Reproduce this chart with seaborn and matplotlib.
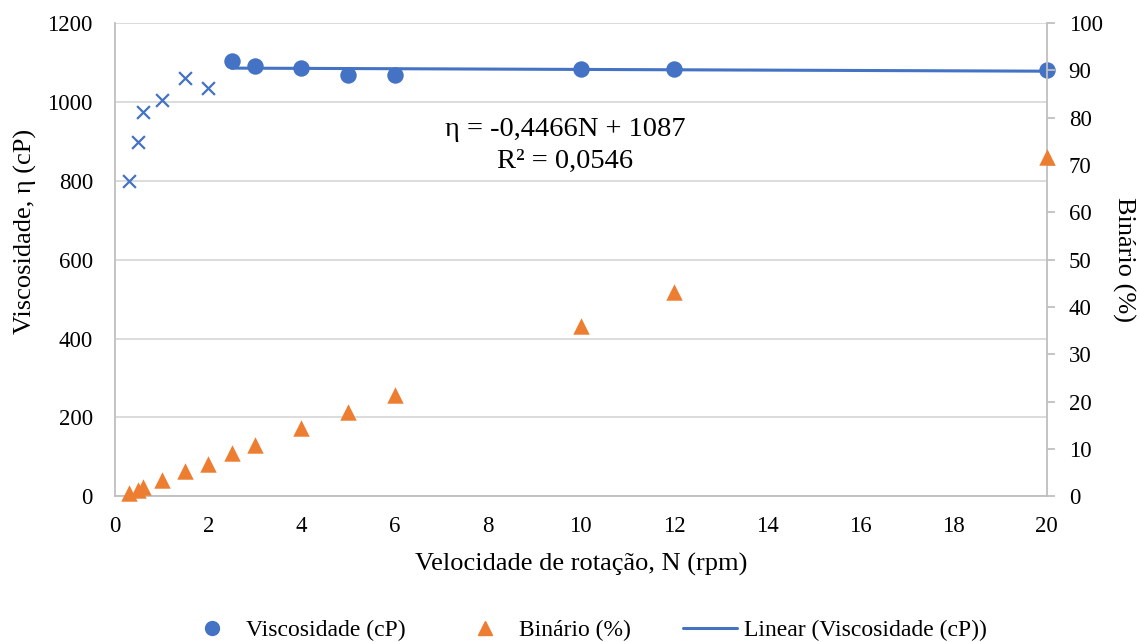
import matplotlib
matplotlib.use("Agg")
import matplotlib.pyplot as plt
import seaborn as sns
import pandas as pd
import numpy as np
from matplotlib.lines import Line2D

# ---- data ----
n_low = [0.3, 0.5, 0.6, 1.0, 1.5, 2.0]
visc_low = [800, 899, 975, 1004, 1060, 1035]

n_high = [2.5, 3, 4, 5, 6, 10, 12, 20]
visc_high = [1103, 1090, 1087, 1068, 1069, 1083, 1084, 1080]

n_all = [0.3, 0.5, 0.6, 1.0, 1.5, 2.0, 2.5, 3, 4, 5, 6, 10, 12, 20]
binario = [0.6, 1.4, 2.0, 3.4, 5.3, 6.9, 9.1, 10.8, 14.4, 17.8, 21.3, 35.9, 43.1, 71.6]

trend_slope = -0.4466
trend_intercept = 1087
trend_x = [2.5, 20]
eq_text = "η = -0,4466N + 1087\nR² = 0,0546"

blue = "#4472C4"
orange = "#ED7D31"
grid_c = "#D9D9D9"
spine_c = "#BFBFBF"

sns.set_theme(style="white")
plt.rcParams['font.family'] = ['Liberation Serif', 'DejaVu Serif']
plt.rcParams['text.color'] = 'black'
plt.rcParams['axes.labelcolor'] = 'black'

fig = plt.figure(figsize=(11.4, 6.42), dpi=100)
ax = fig.add_axes([0.101, 0.227, 0.817, 0.737])
ax2 = ax.twinx()

df_low = pd.DataFrame({"N": n_low, "v": visc_low})
df_high = pd.DataFrame({"N": n_high, "v": visc_high})
df_b = pd.DataFrame({"N": n_all, "b": binario})
df_t = pd.DataFrame({"N": trend_x, "v": [trend_slope * x + trend_intercept for x in trend_x]})

sns.lineplot(data=df_t, x="N", y="v", ax=ax, color=blue, linewidth=2.2, zorder=3)
sns.scatterplot(data=df_low, x="N", y="v", ax=ax, marker="x", s=85, color=blue,
                linewidth=1.6, zorder=4)
sns.scatterplot(data=df_high, x="N", y="v", ax=ax, marker="o", s=140, color=blue,
                edgecolor=blue, linewidth=0, zorder=5, clip_on=False)
sns.scatterplot(data=df_b, x="N", y="b", ax=ax2, marker="^", s=140, color=orange,
                edgecolor=orange, linewidth=0, zorder=5, clip_on=False)

ax.set_xlim(0, 20)
ax.set_ylim(0, 1200)
ax2.set_ylim(0, 100)
ax.set_xticks(np.arange(0, 21, 2))
ax.set_yticks(np.arange(0, 1201, 200))
ax2.set_yticks(np.arange(0, 101, 10))

ax.grid(axis="y", color=grid_c, linewidth=1.3)
ax.set_axisbelow(True)
for s in ["top"]:
    ax.spines[s].set_visible(False)
    ax2.spines[s].set_visible(False)
ax.spines["right"].set_visible(False)
ax2.spines["left"].set_visible(False)
ax2.spines["bottom"].set_visible(False)
for sp in [ax.spines["left"], ax.spines["bottom"], ax2.spines["right"]]:
    sp.set_color(spine_c)
    sp.set_linewidth(1.3)

ax.tick_params(axis="x", length=0, labelsize=16.5, colors="black", pad=14)
ax.tick_params(axis="y", length=0, labelsize=16.5, colors="black", pad=16)
ax2.tick_params(axis="y", length=6, width=1.3, color=spine_c, labelsize=16.5,
                labelcolor="black", direction="out", pad=10)

ax.set_xlabel("Velocidade de rotação, N (rpm)", fontsize=19, labelpad=12, color="black")
ax.set_ylabel("Viscosidade, η (cP)", fontsize=19, color="black")
ax2.set_ylabel("Binário (%)", fontsize=19, rotation=270, color="black")
ax.yaxis.label.set_verticalalignment("center")
ax2.yaxis.label.set_verticalalignment("center")
ax.yaxis.set_label_coords(-0.0966, 0.56)
ax2.yaxis.set_label_coords(1.0826, 0.5)

ax.text(9.66, 890, eq_text, ha="center", va="center", fontsize=20.5, linespacing=1.4,
        color="black")

handles = [
    Line2D([], [], marker="o", linestyle="none", color=blue, markersize=10),
    Line2D([], [], marker="^", linestyle="none", color=orange, markersize=10),
    Line2D([], [], color=blue, linewidth=2.2),
]
labels = ["Viscosidade (cP)", "Binário (%)", "Linear (Viscosidade (cP))"]
leg = fig.legend(handles, labels, loc="lower center", bbox_to_anchor=(0.514, -0.032), ncol=3,
                 frameon=False, fontsize=17, columnspacing=2.2, handlelength=2.3,
                 handletextpad=0.3)
for t in leg.get_texts():
    t.set_color("black")

fig.savefig("out.png", dpi=100)
